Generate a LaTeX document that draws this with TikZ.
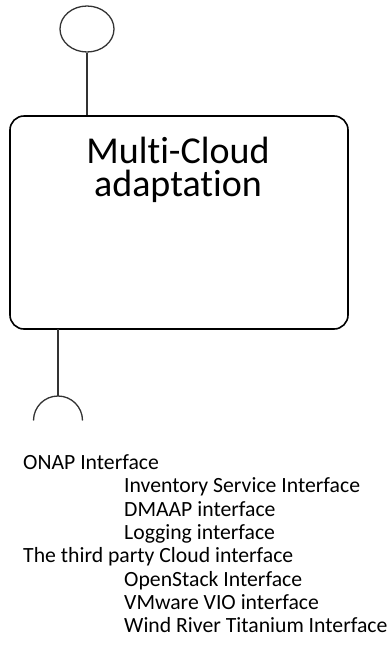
\documentclass[tikz,border=0pt]{standalone}
\usepackage{fontspec}
\setmainfont{Carlito}[RawFeature={-liga}]
\usetikzlibrary{shapes.geometric}
\begin{document}
\begin{tikzpicture}[
    x=1pt, y=1pt,
    wire/.style={draw=black!80, line width=1.3pt},
    lollipop/.style={ellipse, draw=black!80, line width=1.3pt, minimum width=54pt, minimum height=46pt, inner sep=0pt},
    component/.style={rectangle, draw, line width=1.6pt, rounded corners=14pt, minimum width=338pt, minimum height=213pt, inner sep=0pt},
    title/.style={align=center, font=\fontsize{38}{33}\selectfont, inner sep=0pt},
    item/.style={anchor=base west, inner sep=0pt, font=\fontsize{21.7}{23}\selectfont}
]
\useasboundingbox (0,0) rectangle (388,-646);
% provided interface
\node[lollipop] (provided) at (87,-29) {};
\node[component] (mc) at (179,-222.5) {};
\node[title, anchor=base] (mctitle) at (178,-196) {Multi-Cloud\\adaptation};
\draw[wire] (provided.south) -- (provided.south |- mc.north);
% required interface
\coordinate (socket) at (58,-396);
\draw[wire] (58,-329) -- (socket);
\draw[wire] (socket) ++(-24.5,-24.5) arc (180:0:24.5);
% interface list
\node[item] (onap) at (23,-469) {ONAP Interface};
\node[item] (inv) at (124,-492.5) {Inventory Service Interface};
\node[item] (dmaap) at (124,-516) {DMAAP interface};
\node[item] (log) at (124,-539) {Logging interface};
\node[item] (third) at (23,-562.5) {The third party Cloud interface};
\node[item] (os) at (124,-586) {OpenStack Interface};
\node[item] (vio) at (124,-609) {VMware VIO interface};
\node[item] (wr) at (124,-632) {Wind River Titanium Interface};
\end{tikzpicture}
\end{document}
